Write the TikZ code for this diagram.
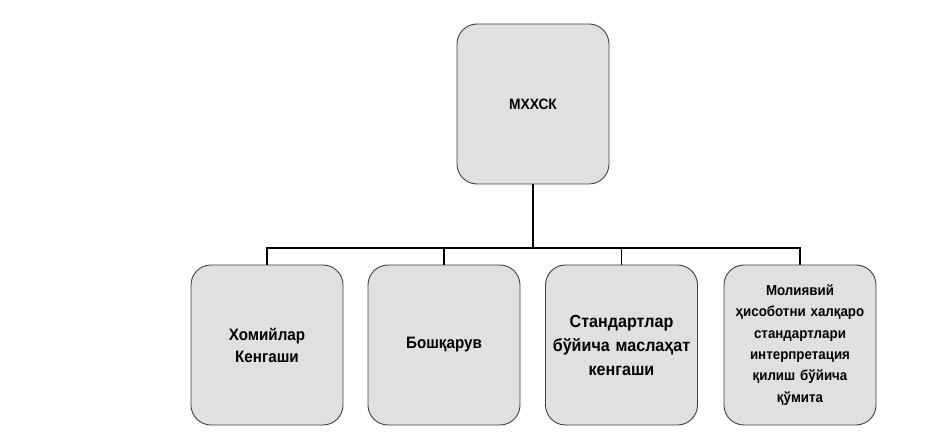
\documentclass[tikz,border=0pt]{standalone}
\usepackage{fontspec}
\setmainfont[FakeStretch=0.92]{Liberation Sans}
\begin{document}
\begin{tikzpicture}[x=1pt,y=-1pt,
  orgbox/.style={draw=black!75, line width=0.9pt, fill=black!12, rounded corners=20pt,
    minimum width=152pt, minimum height=160pt, align=center, inner sep=4pt,
    font=\fontsize{16.5}{22}\selectfont\bfseries, text width=144pt},
  link/.style={draw=black, line width=1.4pt}]
\useasboundingbox (0,0) rectangle (950,438);
\node[orgbox, font=\fontsize{15}{22}\selectfont\bfseries] (top) at (533,104) {МХХСК};
\node[orgbox] (b1) at (267,345) {Хомийлар\\Кенгаши};
\node[orgbox] (b2) at (444,345) {Бошқарув};
\node[orgbox, font=\fontsize{17.5}{24}\selectfont\bfseries] (b3) at (621.5,345) {Стандартлар\\бўйича маслаҳат\\кенгаши};
\node[orgbox, font=\fontsize{14.5}{21.3}\selectfont\bfseries] (b4) at (800,345) {Молиявий\\ҳисоботни халқаро\\стандартлари\\интерпретация\\қилиш бўйича\\қўмита};
\coordinate (bus) at (533,248);
\draw[link] (top.south) -- (bus);
\draw[link] (b1.north) |- (bus) -| (b4.north);
\draw[link] (b2.north) -- (b2.north |- bus);
\draw[link] (b3.north) -- (b3.north |- bus);
\end{tikzpicture}
\end{document}
